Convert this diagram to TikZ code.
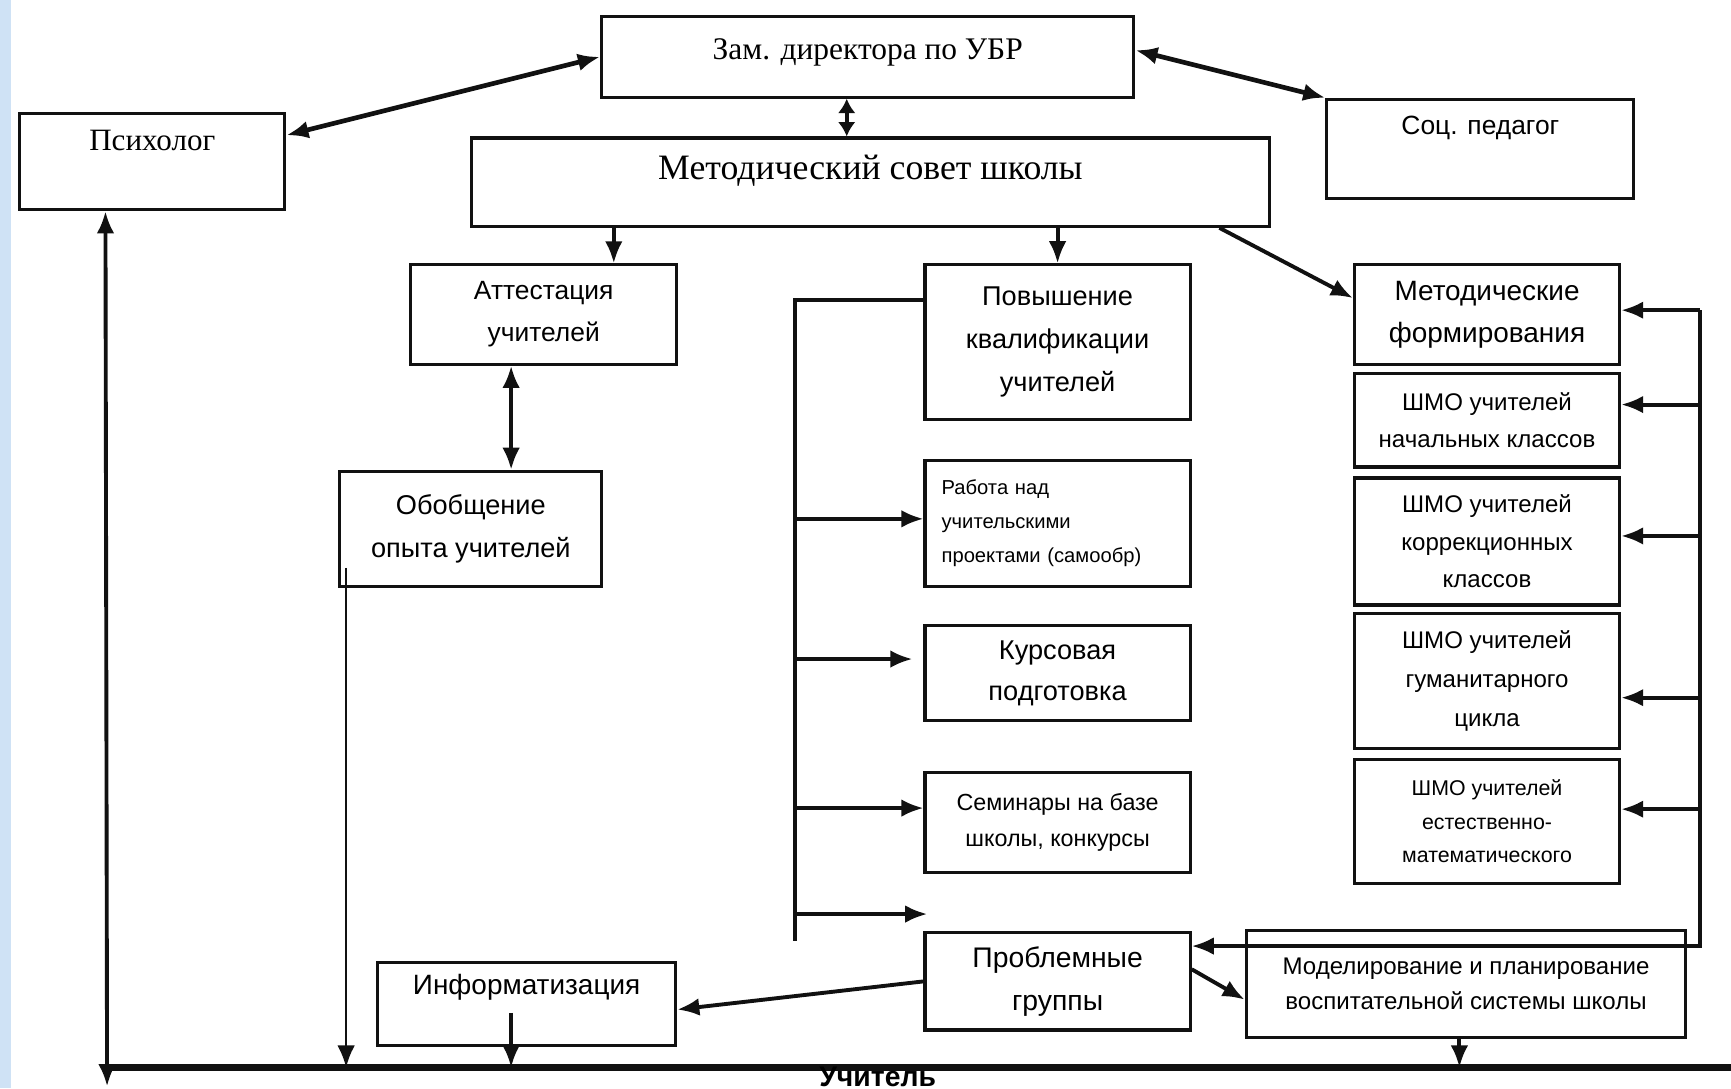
\documentclass[tikz,border=0pt]{standalone}
\usepackage{fontspec}
\setmainfont{Liberation Serif}
\setsansfont{Liberation Sans}
\usetikzlibrary{arrows.meta,positioning,calc}
\definecolor{Strip}{HTML}{CFE2F5}
\definecolor{Ink}{HTML}{111111}
\newcommand{\fsz}[2]{\fontsize{#1}{#2}\selectfont}
\tikzset{
 box/.style={draw=Ink,line width=.8pt,fill=white,align=center,inner sep=1pt},
 wh/.style 2 args={minimum width=#1cm,minimum height=#2cm},
 serif/.style 2 args={font=\rmfamily\fsz{#1}{#2}},
 sans/.style 2 args={font=\sffamily\fsz{#1}{#2}},
 hightext/.style 2 args={text height=#1pt,text depth=#2pt},
 conn/.style={draw=Ink,line width=1pt},
 thinconn/.style={draw=Ink,line width=.7pt}
}
\begin{document}
\begin{tikzpicture}[x=.01cm,y=-.01cm,>={Latex[length=2mm,width=1.6mm]}]
\useasboundingbox (0,0) rectangle (1568,986);
\fill[Strip] (0,0) rectangle (10,986);
% upper level
\node[box,wh={4.82}{.73},serif={8.1}{10},hightext={8.1}{6.9}] (zam) at (786,51.5) {Зам. директора по УБР};
\node[box,wh={2.40}{.87},serif={8}{10},hightext={8}{13.7}] (psych) at (138,146.5) {Психолог};
\node[box,wh={2.78}{.90},sans={6.8}{9},hightext={6.8}{14.1}] (soc) at (1341,135) {Соц. педагог};
\node[box,wh={7.23}{.80},serif={9.2}{11},hightext={9.2}{10.4}] (msovet) at (788.5,165) {Методический совет школы};
% middle level
\node[box,wh={2.41}{.90},sans={6.8}{10.8}] (attest) at (492.5,285) {Аттестация\\учителей};
\node[box,wh={2.37}{1.04},sans={7}{11}] (obobsh) at (426.5,479) {Обобщение\\опыта учителей};
\node[box,wh={2.40}{1.40},sans={7}{11.1}] (povysh) at (958,310) {Повышение\\квалификации\\учителей};
\node[box,wh={2.40}{1.14},sans={5.2}{8.7},text width=2.1cm,align=left] (rabota) at (958,474) {Работа над\\учительскими\\проектами (самообр)};
\node[box,wh={2.40}{.86},sans={7}{10.5}] (kurs) at (958,610) {Курсовая\\подготовка};
\node[box,wh={2.40}{.90},sans={6}{9.4}] (semin) at (958,745) {Семинары на базе\\школы, конкурсы};
\node[box,wh={2.40}{.88},sans={7.3}{11}] (problem) at (958,889) {Проблемные\\группы};
\node[box,wh={2.70}{.75},sans={7.2}{9},hightext={7.2}{12.3}] (inform) at (477,909.5) {Информатизация};
\node[box,wh={3.98}{.97},sans={6.2}{9.1}] (model) at (1328,891.5) {Моделирование и планирование\\воспитательной системы школы};
% right column
\node[box,wh={2.40}{.90},sans={7.2}{10.8}] (metform) at (1347,285) {Методические\\формирования};
\node[box,wh={2.40}{.85},sans={6.2}{9.7}] (shmo1) at (1347,380.5) {ШМО учителей\\начальных классов};
\node[box,wh={2.40}{1.15},sans={6.2}{9.7}] (shmo2) at (1347,490.5) {ШМО учителей\\коррекционных\\классов};
\node[box,wh={2.40}{1.22},sans={6.2}{10}] (shmo3) at (1347,617) {ШМО учителей\\гуманитарного\\цикла};
\node[box,wh={2.40}{1.12},sans={5.5}{8.7}] (shmo4) at (1347,744) {ШМО учителей\\естественно-\\математического};
% links from the top
\draw[<->,conn,line width=1.2pt] (zam.west) -- ($(psych.east)+(0,-24)$);
\draw[<->,conn,line width=1.2pt] ($(zam.east)+(0,-6)$) -- (soc.north west);
\coordinate (zs) at ($(zam.south)+(-19,0)$);
\draw[<->,conn,>={Latex[length=1.3mm,width=1.6mm]}] (zs) -- (msovet.north -| zs);
\coordinate (at) at ($(attest.north)+(63.5,0)$);
\draw[->,conn] (msovet.south -| at) -- (at);
\draw[->,conn] (msovet.south -| povysh.north) -- (povysh.north);
\draw[->,conn] ($(msovet.south east)+(-47,0)$) -- ($(metform.west)+(0,-15)$);
\coordinate (ao) at ($(obobsh.north)+(36.5,0)$);
\draw[<->,conn] (attest.south -| ao) -- (ao);
% trunk of the qualification block
\coordinate (trT) at (720,272);
\coordinate (trB) at (720,852);
\draw[conn] ($(povysh.west)+(0,-38)$) -- (trT) -- (trB);
\foreach \t/\dy/\gap in {rabota/-4/0,kurs/-13/10,semin/-13/0}{
 \coordinate (p) at ($(\t.west)+(-\gap,\dy)$);
 \draw[->,conn] (trT |- p) -- (p);
}
\coordinate (free) at (840,828);
\draw[->,conn] (trT |- free) -- (free);
% right bus
\coordinate (rbT) at (1540,281);
\coordinate (rbB) at (1540,857);
\draw[->,conn] (rbT) -- (rbB) -- (rbB -| problem.east);
\foreach \t/\dy in {metform/-4,shmo1/-14,shmo2/-5,shmo3/15,shmo4/-11}{
 \coordinate (q) at ($(\t.east)+(0,\dy)$);
 \draw[->,conn] (rbT |- q) -- (q);
}
\draw[->,conn] ($(problem.east)+(0,-11)$) -- ($(model.west)+(0,14)$);
\draw[->,conn] (problem.west) -- ($(inform.east)+(0,5)$);
% teacher line
\coordinate (busL) at (97,967);
\coordinate (busR) at (1580,967);
\draw[Ink,line width=1.8pt] (busL) -- (busR);
\coordinate (ps) at ($(psych.south west)+(79,0)$);
\coordinate (psb) at (97,984);
\draw[<->,conn] (psb) -- (ps);
\coordinate (ob) at ($(obobsh.south west)+(7,-18)$);
\draw[->,thinconn] (ob) -- (ob |- busL);
\coordinate (inf) at ($(inform.center)+(-14,8)$);
\draw[->,conn] (inf) -- (inf |- busL);
\coordinate (md) at ($(model.south)+(-6,0)$);
\draw[->,conn] (md) -- (md |- busL);
\node[font=\sffamily\bfseries\fsz{7.3}{9},anchor=base] (teacher) at (795,984) {Учитель};
\end{tikzpicture}
\end{document}
